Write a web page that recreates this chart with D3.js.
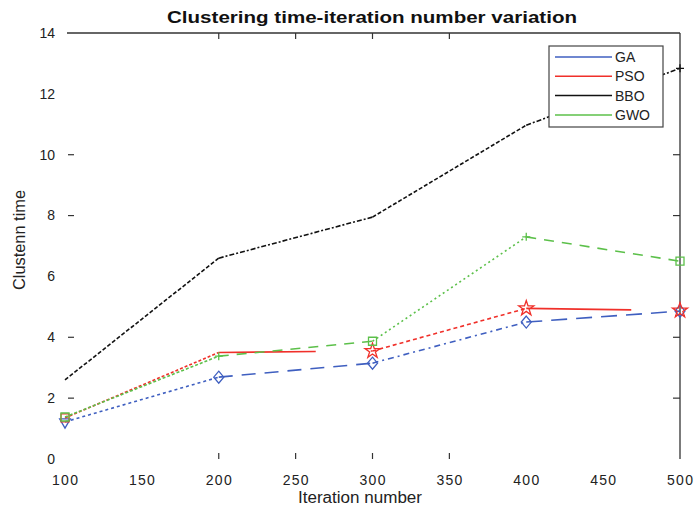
<!DOCTYPE html>
<html><head><meta charset="utf-8">
<script src="https://cdn.jsdelivr.net/npm/d3@7"></script>
<style>body{margin:0;background:#fff}svg{display:block}text{font-family:"Liberation Sans",Arial,sans-serif}</style>
</head><body><svg id="c" width="694" height="508"></svg>
<script>
const iterations = [100, 200, 300, 400, 500];
const seriesNames = ["GA", "PSO", "BBO", "GWO"];
const gaValues  = [1.22, 2.69, 3.15, 4.50, 4.86];
const psoValues = [1.35, 3.50, 3.55, 4.95, 4.88];
const bboValues = [2.60, 6.60, 7.95, 10.97, 12.84];
const gwoValues = [1.38, 3.38, 3.87, 7.30, 6.50];
const xTickValues = [100, 150, 200, 250, 300, 350, 400, 450, 500];
const yTickValues = [0, 2, 4, 6, 8, 10, 12, 14];

const series = [
  {name: seriesNames[0], values: gaValues,  color: "#3f5fc0", dashes: ["3,3", "14,9", "6,4,2,4", "16,9"], markers: ["tri","diamond","diamond","diamond","diamond"]},
  {name: seriesNames[1], values: psoValues, color: "#f0302a", dashes: ["3,2", "97,55", "4,3", "105,55"], markers: ["square",null,"star","star","star"]},
  {name: seriesNames[2], values: bboValues, color: "#111111", dashes: ["4,2", "5,2,2,2", "4,2", "5,2,2,2"], markers: [null,null,null,null,"plus"]},
  {name: seriesNames[3], values: gwoValues, color: "#5cc04a", dashes: ["3,2", "10,8", "2,3", "10,8"], markers: ["square","plus","square","plus","square"]}
];

const svg = d3.select("#c");
const x = d3.scaleLinear().domain([100, 500]).range([65, 680]);
const y = d3.scaleLinear().domain([0, 14]).range([459, 33]);

svg.append("line").attr("x1", 67).attr("x2", x(500)).attr("y1", y(14)).attr("y2", y(14)).attr("stroke", "#333").attr("stroke-width", 1.3);
svg.append("line").attr("x1", x(500)).attr("x2", x(500)).attr("y1", y(14)).attr("y2", y(0)).attr("stroke", "#333").attr("stroke-width", 1.3);

const xt = svg.append("g").attr("stroke", "#333").attr("stroke-width", 1.2);
[200, 250, 300, 350].forEach(v => {
  xt.append("line").attr("x1", x(v)).attr("x2", x(v)).attr("y1", y(14)).attr("y2", y(14) + 6);
  xt.append("line").attr("x1", x(v)).attr("x2", x(v)).attr("y1", y(0)).attr("y2", y(0) - 6);
});
[2, 4, 8, 10].forEach(v => {
  xt.append("line").attr("x1", 68).attr("x2", 74).attr("y1", y(v)).attr("y2", y(v));
  xt.append("line").attr("x1", x(500)).attr("x2", x(500) - 7).attr("y1", y(v)).attr("y2", y(v));
});

svg.append("g").selectAll("text").data(yTickValues).join("text")
  .attr("x", 55).attr("y", d => y(d)).attr("dy", "0.35em").attr("text-anchor", "end")
  .attr("font-size", 14).attr("fill", "#222").text(d => d);
svg.append("g").selectAll("text").data(xTickValues).join("text")
  .attr("x", d => x(d)).attr("y", 485).attr("text-anchor", "middle")
  .attr("font-size", 14).attr("textLength", 26).attr("fill", "#222").text(d => d);

svg.append("text").attr("x", 372).attr("y", 23).attr("text-anchor", "middle")
  .attr("font-size", 16).attr("font-weight", "bold").attr("fill", "#111")
  .attr("textLength", 410).attr("lengthAdjust", "spacingAndGlyphs")
  .text("Clustering time-iteration number variation");
svg.append("text").attr("x", 360).attr("y", 503).attr("text-anchor", "middle")
  .attr("font-size", 16).attr("fill", "#222")
  .attr("textLength", 124).attr("lengthAdjust", "spacingAndGlyphs").text("Iteration number");
svg.append("text").attr("transform", "translate(25,240) rotate(-90)").attr("text-anchor", "middle")
  .attr("font-size", 16).attr("fill", "#222")
  .attr("textLength", 100).attr("lengthAdjust", "spacingAndGlyphs").text("Clustenn time");

const plusPath = "M-4,0H4M0,-4V4";
const plot = svg.append("g");
series.forEach(s => {
  for (let i = 0; i < iterations.length - 1; i++) {
    plot.append("line")
      .attr("x1", x(iterations[i])).attr("y1", y(s.values[i]))
      .attr("x2", x(iterations[i + 1])).attr("y2", y(s.values[i + 1]))
      .attr("stroke", s.color).attr("stroke-width", 1.6)
      .attr("stroke-dasharray", s.dashes[i]);
  }
  iterations.forEach((it, i) => {
    const m = s.markers[i];
    if (!m) return;
    const cx = x(it), cy = y(s.values[i]);
    let d;
    if (m === "plus") d = plusPath;
    else if (m === "diamond") d = "M0,-6L5,0L0,6L-5,0Z";
    else if (m === "square") d = "M-4,-4H4V4H-4Z";
    else if (m === "tri") d = d3.symbol().type(d3.symbolTriangle).size(50)();
    else d = d3.symbol().type(d3.symbolStar).size(70)();
    plot.append("path").attr("d", d)
      .attr("transform", `translate(${cx},${cy})` + (m === "tri" ? " rotate(180)" : ""))
      .attr("fill", "none").attr("stroke", s.color).attr("stroke-width", 1.3);
  });
});

const lg = svg.append("g");
lg.append("rect").attr("x", 549).attr("y", 46).attr("width", 114).attr("height", 81)
  .attr("fill", "#fff").attr("stroke", "#444").attr("stroke-width", 1.2);
series.forEach((s, i) => {
  const yy = 57 + i * 19.3;
  lg.append("line").attr("x1", 555).attr("x2", 612).attr("y1", yy).attr("y2", yy)
    .attr("stroke", s.color).attr("stroke-width", 1.5);
  lg.append("text").attr("x", 615).attr("y", yy).attr("dy", "0.36em")
    .attr("font-size", 14).attr("fill", "#222").text(s.name);
});
</script></body></html>
